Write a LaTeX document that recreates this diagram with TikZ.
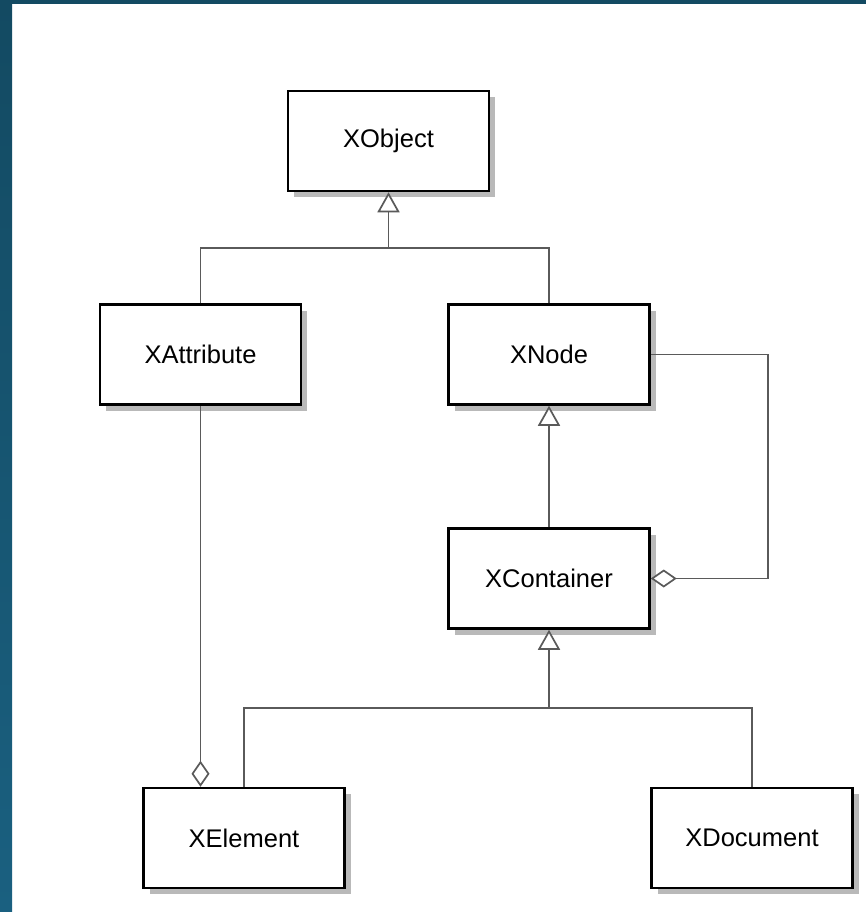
\documentclass[tikz,border=0pt]{standalone}
\usepackage{fontspec}
\setmainfont{Liberation Sans}
\usetikzlibrary{arrows.meta,shadows}
\definecolor{bgdark}{RGB}{19,74,98}
\definecolor{bglight}{RGB}{26,96,128}
\definecolor{conn}{RGB}{90,90,90}
\definecolor{shad}{RGB}{185,185,185}
\begin{document}
\begin{tikzpicture}[x=1pt,y=-1pt,
  cls/.style={draw=black, line width=2.5pt, fill=white,
    minimum width=201pt, minimum height=100pt, inner sep=0pt,
    font=\fontsize{25.5}{30}\selectfont,
    drop shadow={shadow xshift=6pt, shadow yshift=-6pt, fill=shad, opacity=1}},
  link/.style={draw=conn, line width=1.7pt},
  gen/.style={link, -{Triangle[open, length=20pt, width=22pt, fill=white]}},
  agg/.style={link, -{Diamond[open, length=26pt, width=18pt, fill=white]}}
]
\useasboundingbox (0,0) rectangle (866,912);
\fill[white] (0,0) rectangle (866,912);
\shade[top color=bgdark, bottom color=bglight] (0,0) rectangle (12,912);
\fill[bgdark] (0,0) rectangle (866,4);

\node[cls] (xobject)    at (388.5,141)   {XObject};
\node[cls] (xattribute) at (200.5,354.5) {XAttribute};
\node[cls] (xnode)      at (549,354.5)   {XNode};
\node[cls] (xcontainer) at (549,578.5)   {XContainer};
\node[cls] (xelement)   at (244,838)     {XElement};
\node[cls] (xdocument)  at (752,838)     {XDocument};

\coordinate (j1) at (388.5,248);
\coordinate (j2) at (549,708);
\coordinate (c1) at (768,466);

% generalization to XObject
\draw[link] (xattribute.north) |- (j1);
\draw[link] (xnode.north) |- (j1);
\draw[gen] (j1) -- (xobject.south);

% XContainer -> XNode
\draw[gen] (xcontainer.north) -- (xnode.south);

% XElement, XDocument -> XContainer
\draw[link] (xelement.north) |- (j2);
\draw[link] (xdocument.north) |- (j2);
\draw[gen] (j2) -- (xcontainer.south);

% aggregation XNode -> XContainer
\draw[agg] (xnode.east) -| (c1) |- (xcontainer.east);

% aggregation XAttribute -> XElement
\draw[agg] (xattribute.south) -- (xattribute.south |- xelement.north);
\end{tikzpicture}
\end{document}
